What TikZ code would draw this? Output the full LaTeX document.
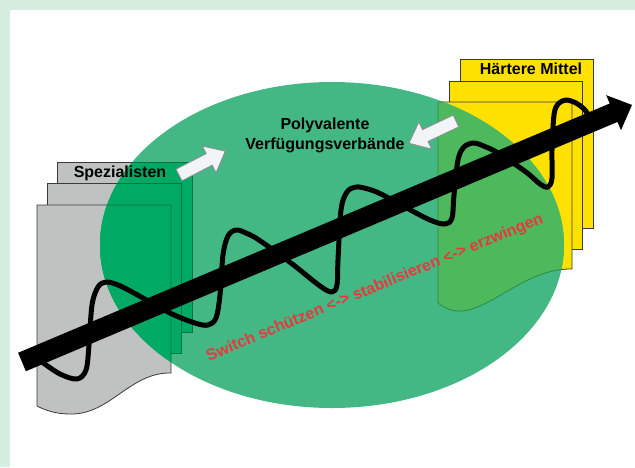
\documentclass[tikz,border=0pt]{standalone}
\usepackage{fontspec}
\setmainfont{Liberation Sans}
\definecolor{bgc}{HTML}{D6EEDF}
\definecolor{ellc}{HTML}{44B884}
\definecolor{dgreen}{HTML}{00A964}
\definecolor{dgreenedge}{HTML}{00753F}
\definecolor{lgreen}{HTML}{4DB85C}
\definecolor{lgreenedge}{HTML}{2A8A45}
\definecolor{grayc}{HTML}{C0C2C2}
\definecolor{yellowc}{HTML}{FFE100}
\definecolor{edgec}{HTML}{3A3A3A}
\definecolor{redc}{HTML}{E8383D}
\definecolor{arrfill}{HTML}{F2F4F7}
\definecolor{arredge}{HTML}{8A8F94}
\begin{document}
\begin{tikzpicture}[x=1pt,y=-1pt,
  graypage/.style={fill=grayc, draw=edgec, line width=0.8pt},
  yellowpage/.style={fill=yellowc, draw=edgec, line width=0.8pt},
  darkpage/.style={fill=dgreen, draw=dgreenedge, line width=0.8pt},
  lightpage/.style={fill=lgreen, draw=lgreenedge, line width=0.8pt},
  lbl/.style={font=\bfseries\fontsize{16}{20}\selectfont, text=black, inner sep=0pt},
  redtxt/.style={font=\bfseries\fontsize{16}{20}\selectfont, text=redc, inner sep=0pt},
  wave/.style={draw=black, line width=5pt, line join=round, line cap=round},
  blockarrow/.pic={\draw[fill=arrfill, draw=arredge, line width=0.8pt, line join=miter]
      (0,-6.5) -- (34,-6.5) -- (34,-15) -- (52,0) -- (34,15) -- (34,6.5) -- (0,6.5) -- cycle;}
  ]
\useasboundingbox (0,0) rectangle (635,467);
\fill[bgc] (0,0) rectangle (635,467);
\fill[white] (10,10) rectangle (635,467);

% gray pages
\path[graypage] (57,162) rectangle (192,332);
\path[graypage] (47,183) rectangle (181,353);
\path[graypage] (37,205) -- (171,205) -- (171,373) .. controls (130,372) and (110,415) .. (70,414) .. controls (55,414) and (45,410) .. (37,406) -- cycle;

% yellow pages
\path[yellowpage] (460,59) rectangle (593,228);
\path[yellowpage] (449,81) rectangle (582,249);
\path[yellowpage] (438,102) -- (572,102) -- (572,269) .. controls (525,268) and (490,312) .. (458,311) .. controls (450,311) and (443,307) .. (438,303) -- cycle;

% ellipse
\fill[ellc] (332,245) ellipse [x radius=232, y radius=163];

\begin{scope}
  \clip (332,245) ellipse [x radius=232, y radius=163];
  \path[darkpage] (57,162) rectangle (192,332);
  \path[darkpage] (47,183) rectangle (181,353);
  \path[darkpage] (37,205) -- (171,205) -- (171,373) .. controls (130,372) and (110,415) .. (70,414) .. controls (55,414) and (45,410) .. (37,406) -- cycle;
  \path[lightpage] (438,102) -- (572,102) -- (572,269) .. controls (525,268) and (490,312) .. (458,311) .. controls (450,311) and (443,307) .. (438,303) -- cycle;
\end{scope}

% wave
\draw[wave] plot[smooth, tension=0.55] coordinates {
  (42,362) (60,374) (77,379) (86,370) (89,345) (92,305) (98,287) (106,282) (118,285)
  (134,293) (170,313) (195,323) (208,325) (216,318) (220,295) (223,255) (228,236)
  (236,230) (246,233) (259,240) (291,263) (320,286) (332,292) (337,285) (338,260)
  (341,210) (347,192) (356,187) (368,189) (381,194) (405,207) (430,220) (445,224)
  (452,218) (454,195) (458,160) (464,147) (474,143) (486,147) (498,153) (526,172)
  (540,184) (548,187) (552,178) (552,150) (554,115) (558,104) (566,100) (576,103)
  (584,109) (590,117)};

% big black arrow
\fill[black, shift={(22,362)}, rotate=22.85]
  (0,-10) -- (642,-10) -- (642,-19) -- (662,0) -- (642,19) -- (642,10) -- (0,10) -- cycle;

% white block arrows
\pic[rotate=27.3] (arrL) at (179,175) {blockarrow};
\pic[rotate=205.3] (arrR) at (456,121) {blockarrow};

% labels
\node[lbl] (spez) at (120,173) {Spezialisten};
\node[lbl] (haerte) at (531,69) {Härtere Mittel};
\node[lbl, align=center] (poly) at (325,135) {Polyvalente\\Verfügungsverbände};
\node[redtxt, rotate=22.5] (switch) at (375,288) {Switch schützen <-> stabilisieren <-> erzwingen};
\end{tikzpicture}
\end{document}
